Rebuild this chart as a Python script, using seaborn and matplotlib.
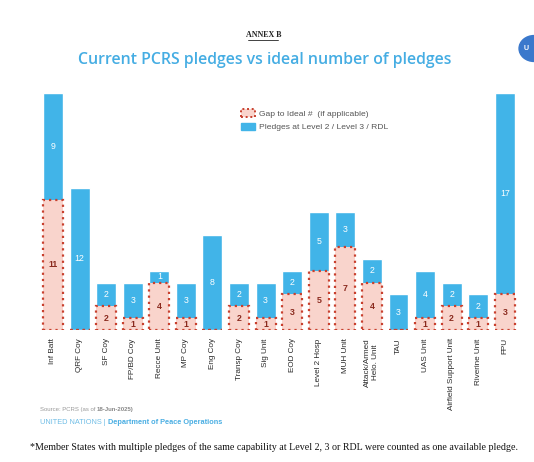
import matplotlib
matplotlib.use("Agg")
import matplotlib.pyplot as plt
from matplotlib.patches import Patch, Circle
from matplotlib.lines import Line2D
import seaborn as sns
import pandas as pd

# values
capabilities = ["Inf Batt", "QRF Coy", "SF Coy", "FP/BD Coy", "Recce Unit", "MP Coy",
                "Eng Coy", "Transp Coy", "Sig Unit", "EOD Coy", "Level 2 Hosp", "MUH Unit",
                "Attack/Armed\nHelo. Unit", "TAU", "UAS Unit", "Airfield Support Unit",
                "Riverine Unit", "FPU"]
gap = [11, 0, 2, 1, 4, 1, 0, 2, 1, 3, 5, 7, 4, 0, 1, 2, 1, 3]
pledges = [9, 12, 2, 3, 1, 3, 8, 2, 3, 2, 5, 3, 2, 3, 4, 2, 2, 17]

blue = "#41b4e8"
pink = "#f9d4cc"
red_dot = "#c8402e"
dark_red = "#8a2a1e"

df = pd.DataFrame({"cap": capabilities, "gap": gap, "pledges": pledges})
df["total"] = df["gap"] + df["pledges"]

sns.set_theme(style="white")
plt.rcParams["font.family"] = ["Liberation Sans", "DejaVu Sans"]

fig = plt.figure(figsize=(5.34, 4.62), dpi=100)
ax = fig.add_axes([0.0743, 0.2857, 0.896, 0.513])

# stacked look: full height in blue, gap drawn over it in pink
sns.barplot(data=df, x="cap", y="total", color=blue, width=0.75,
            saturation=1, ax=ax, zorder=2)
sns.barplot(data=df, x="cap", y="gap", color=pink, width=0.75, saturation=1,
            edgecolor=red_dot, linewidth=1.6, linestyle=(0, (1, 1.8)), ax=ax, zorder=3)

for i, row in df.iterrows():
    if row["gap"] > 0:
        ax.text(i, row["gap"] / 2, str(row["gap"]), ha="center", va="center",
                fontsize=6.3, fontweight="bold", color=dark_red, zorder=4)
    ax.text(i, row["gap"] + row["pledges"] / 2, str(row["pledges"]), ha="center",
            va="center", fontsize=6.3, color="white", zorder=4)

ax.set_xlim(-0.5, len(capabilities) - 0.5)
ax.set_ylim(0, 20)
ax.set_xlabel("")
ax.set_ylabel("")
ax.set_yticks([])
ax.tick_params(axis="x", length=0, pad=6, labelsize=5.9, labelcolor="#2a2a2a")
plt.setp(ax.get_xticklabels(), rotation=90, va="top", ha="center")
for s in ax.spines.values():
    s.set_visible(False)

handles = [Patch(facecolor=pink, edgecolor=red_dot, linewidth=1.4, linestyle=(0, (1, 1.4)),
                 label="Gap to Ideal #  (if applicable)"),
           Patch(facecolor=blue, edgecolor=blue, label="Pledges at Level 2 / Level 3 / RDL")]
ax.legend(handles=handles, loc="upper left", bbox_to_anchor=(0.405, 0.965), frameon=False,
          fontsize=6.1, labelcolor="#555555", handlelength=1.6, handleheight=1.0,
          handletextpad=0.5, labelspacing=0.6)

# titles and notes
fig.text(0.493, 0.925, "ANNEX B", ha="center", va="center", fontsize=5.8,
         fontweight="bold", family=["Liberation Serif"], color="#222222")
fig.add_artist(Line2D([0.465, 0.521], [0.913, 0.913], color="#222222", lw=0.6))
fig.text(0.495, 0.87, "Current PCRS pledges vs ideal number of pledges", ha="center",
         va="center", fontsize=11.4, fontweight="semibold", family=["Open Sans", "DejaVu Sans"],
         color="#45ade3")

s1 = fig.text(0.075, 0.113, "Source: PCRS (as of ", fontsize=4.3, color="#999999", va="center")
ax.annotate("18-Jun-2025)", xy=(1, 0.5), xycoords=s1, va="center", ha="left",
            fontsize=4.3, color="#888888", fontweight="bold")
u1 = fig.text(0.075, 0.085, "UNITED NATIONS | ", fontsize=5.3, color="#6fbde6", va="center")
ax.annotate("Department of Peace Operations", xy=(1, 0.5), xycoords=u1, va="center",
            ha="left", fontsize=5.3, color="#4aaee3", fontweight="bold")

fig.text(0.514, 0.032, "*Member States with multiple pledges of the same capability at Level 2, 3 "
         "or RDL were counted as one available pledge.", ha="center", va="center",
         fontsize=7.2, family=["Liberation Serif"], color="#111111")

# partial UN emblem at top right edge
fig.add_artist(Circle((1.0, 0.895), 0.028, transform=fig.transFigure, color="#3a78cc",
                      clip_on=False))
fig.text(0.985, 0.895, "U", fontsize=5, color="white", fontweight="bold",
         ha="center", va="center")

fig.savefig("out.png", dpi=100)
